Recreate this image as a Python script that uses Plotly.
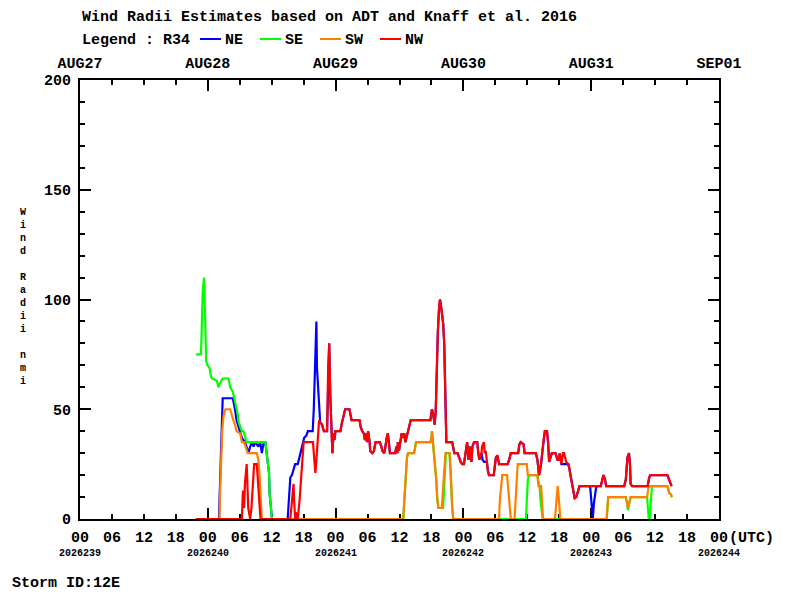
import plotly.graph_objects as go

# hours since 2026-08-27 00 UTC and radii (nmi)
NE_h = [21.75, 26.1, 26.2, 26.4, 26.55, 26.8, 28.7, 28.9, 29.1, 29.4, 29.75, 30.1, 30.4, 31.0, 31.3, 31.65,
        31.95, 32.3, 32.6, 32.9, 33.5, 33.85, 34.15, 34.5, 34.8, 35.0, 35.2, 35.5, 35.6, 35.9, 36.05,
        39.0, 39.25, 39.5, 39.8, 40.1, 40.4, 40.9, 41.25, 41.5, 41.8, 42.1, 42.5, 42.8, 43.7, 43.9, 44.07,
        44.26, 44.39, 44.5, 44.7, 44.9, 45.0, 45.1, 45.45, 45.8, 46.4, 46.6, 46.8, 47.0, 47.2, 47.4, 47.6,
        47.8, 47.96, 48.9, 49.2, 49.5, 49.8, 50.6, 50.8, 51.0, 52.5, 52.7, 53.0, 53.3, 53.5, 53.7, 53.9,
        54.1, 54.4, 54.5, 54.9, 55.2, 55.5, 56.3, 56.6, 56.8, 57.1, 57.3, 57.6, 57.8, 58.0, 58.2, 59.2,
        59.4, 59.6, 59.7, 59.9, 60.2, 60.4, 60.7, 60.9, 61.1, 61.3, 61.6, 61.9, 62.1, 65.8, 65.9, 66.1,
        66.3, 66.5, 66.6, 66.8, 66.9, 67.2, 67.4, 67.6, 67.8, 68.0, 68.2, 68.4, 68.6, 68.8, 69.9, 70.1,
        70.3, 70.9, 71.2, 71.5, 71.8, 72.1, 72.4, 72.7, 72.96, 73.2, 73.5, 73.7, 74.0, 74.6, 74.8, 75.0,
        75.4, 75.6, 75.9, 76.2, 76.4, 76.6, 76.8, 77.7, 78.1, 78.4, 78.7, 80.3, 80.6, 80.9, 82.3, 82.5,
        82.75, 83.3, 83.5, 85.6, 85.9, 86.2, 86.4, 86.6, 86.8, 87.1, 87.3, 87.7, 87.9, 88.1, 88.4, 88.6,
        89.3, 89.65, 89.95, 90.1, 90.4, 91.3, 91.7, 91.9, 92.2, 92.4, 92.7, 92.9, 93.2, 93.5, 93.8, 95.8,
        96.1, 96.3, 96.5, 96.9, 97.1, 97.8, 98.0, 98.3, 98.6, 98.8, 102.2, 102.5, 102.8, 103.1, 103.3,
        103.4, 103.7, 106.6, 106.9, 107.1, 110.3, 110.6, 110.8, 111.1]
NE_v = [0, 0, 9, 27, 45, 55, 55, 53, 50, 45, 42, 40, 37, 35, 33, 30,
        33, 35, 33, 35, 33, 35, 30, 35, 35, 31, 27, 21, 12, 3, 0,
        0, 12, 19, 20, 22, 25, 25, 29, 31, 34, 37, 38, 40, 40, 50, 65,
        80, 90, 69, 59, 50, 45, 44, 43, 40, 40, 69, 80, 56, 42, 30, 39,
        36, 40, 40, 44, 47, 50, 50, 47, 45, 45, 42, 40, 39, 36, 39, 35,
        40, 35, 31, 30, 31, 35, 35, 33, 31, 30, 32, 37, 39, 35, 30, 30,
        33, 30, 35, 31, 35, 39, 37, 39, 35, 37, 40, 42, 45, 45, 48, 50,
        48, 45, 43, 49, 61, 85, 95, 100, 97, 94, 89, 80, 63, 35, 35, 33,
        30, 30, 28, 26, 25, 25, 30, 35, 27, 33, 26, 33, 35, 35, 30, 27,
        30, 27, 26, 26, 26, 22, 20, 20, 28, 29, 25, 25, 27, 30, 30, 34,
        35, 34, 30, 30, 27, 20, 22, 25, 30, 37, 40, 40, 35, 26, 28, 30,
        30, 27, 27, 30, 25, 25, 25, 23, 18.5, 16, 12.5, 9.5, 10, 13, 15, 15,
        8, 0, 7, 14, 15, 15, 17, 20, 18, 15, 15, 18, 28, 30, 24,
        16, 15, 15, 19, 20, 20, 18, 17, 15]

SE_h = [21.75, 22.7, 22.8, 22.9, 23.05, 23.3, 23.4, 23.6, 23.7, 23.95, 24.3, 24.6, 24.8, 25.7, 26.0,
        26.3, 26.8, 27.9, 28.2, 28.7, 29.0, 29.3, 29.6, 29.8, 30.1, 30.4, 30.7, 31.0, 31.3, 34.8, 35.0,
        35.2, 35.5, 35.6, 35.9, 36.05, 60.7, 60.8, 61.0, 61.2, 61.4, 61.6, 62.7, 62.9, 63.1, 65.8, 66.0,
        66.1, 66.3, 66.5, 66.7, 66.9, 67.1, 67.3, 68.2, 68.35, 68.5, 68.7, 69.4, 69.6, 69.7, 69.9, 70.1,
        83.75, 83.9, 84.1, 84.3, 85.9, 86.1, 86.3, 86.5, 86.9, 98.9, 99.05, 99.2, 102.5, 102.7, 102.9,
        103.2, 103.4, 106.5, 106.6, 106.8, 107.0, 107.2, 107.4, 110.3, 110.65, 111.0, 111.15]
SE_v = [75, 75, 81, 92, 104, 110, 100, 83, 72, 70, 69, 65, 64, 63, 60,
        62, 64, 64, 60, 58, 55, 52, 48, 44, 42, 40, 40, 37, 35, 35, 31,
        27, 21, 12, 3, 0, 0, 4, 12, 21, 28, 30, 30, 32, 35, 35, 37,
        40, 35, 28, 23, 18, 9, 5, 5, 12, 22, 30, 30, 23, 15, 5, 0,
        0, 10, 18, 20, 20, 17, 15, 8, 0, 0, 5, 10, 10, 8, 4,
        8, 10, 10, 5, 0, 0, 8, 15, 15, 12, 11, 10]

SW_h = [21.75, 26.2, 26.3, 26.5, 26.7, 26.95, 27.3, 28.2, 28.5, 28.8, 29.1, 29.4, 30.1, 30.4, 30.8,
        31.15, 31.5, 33.2, 33.5, 33.7, 33.9, 34.15, 60.7, 60.8, 61.0, 61.2, 61.4, 61.6, 62.7, 62.9, 63.1,
        65.8, 66.0, 66.1, 66.3, 66.5, 66.7, 66.9, 67.1, 67.3, 67.95, 68.1, 68.4, 68.65, 69.4, 69.6, 69.7,
        69.9, 70.1, 78.7, 78.85, 79.1, 79.3, 80.2, 80.4, 80.6, 80.9, 81.6, 81.8, 82.0, 82.2, 83.9, 84.1,
        85.9, 86.1, 86.6, 86.8, 86.95, 89.2, 89.4, 89.6, 89.7, 89.9, 90.1, 90.2, 98.9, 99.05, 99.2,
        102.5, 102.7, 102.9, 103.2, 103.4, 106.5, 106.8, 110.3, 110.65, 111.0, 111.15]
SW_v = [0, 0, 12, 30, 40, 47, 50, 50, 47, 45, 43, 40, 39, 35, 35,
        32, 30, 30, 27, 21, 12, 0, 0, 4, 12, 21, 28, 30, 30, 32, 35,
        35, 37, 40, 35, 28, 23, 18, 9, 5, 5, 12, 22, 30, 30, 23, 15,
        5, 0, 0, 9, 15, 20, 20, 15, 9, 0, 0, 9, 17, 25, 25, 20,
        20, 15, 15, 8, 0, 0, 8, 13, 15, 10, 5, 0, 0, 5, 10,
        10, 8, 5, 8, 10, 10, 15, 15, 12, 11, 10]

NW_h = [21.75, 30.4, 30.6, 30.8, 31.0, 31.3, 31.6, 31.95, 32.2, 32.5, 32.7, 33.2, 33.5, 33.7, 33.9,
        39.5, 39.8, 40.1, 40.2, 40.4, 40.55, 40.9, 41.25, 41.5, 41.75, 42.0, 43.75, 44.0, 44.2, 44.4,
        44.6, 44.9, 45.1, 45.45, 45.8, 46.4, 46.6, 46.8, 47.0, 47.2, 47.4, 47.6, 47.8, 47.96, 48.9, 49.2,
        49.5, 49.8, 50.6, 50.8, 51.0, 52.5, 52.7, 53.0, 53.3, 53.5, 53.7, 53.9, 54.1, 54.4, 54.5, 54.9,
        55.2, 55.5, 56.3, 56.6, 56.8, 57.1, 57.3, 57.6, 57.8, 58.0, 58.2, 59.2, 59.4, 59.6, 59.7, 59.9,
        60.2, 60.4, 60.7, 60.9, 61.1, 61.3, 61.6, 61.9, 62.1, 65.8, 65.9, 66.1, 66.3, 66.5, 66.6, 66.8,
        66.9, 67.2, 67.4, 67.6, 67.8, 68.0, 68.2, 68.4, 68.6, 68.8, 69.9, 70.1, 70.3, 70.9, 71.2, 71.5,
        71.8, 72.1, 72.4, 72.7, 72.96, 73.2, 73.5, 73.7, 74.0, 74.6, 74.8, 75.0, 75.4, 75.5, 75.85, 76.0,
        76.2, 76.4, 76.6, 76.8, 77.7, 78.1, 78.4, 78.7, 80.3, 80.6, 80.9, 82.3, 82.5, 82.75, 83.3, 83.5,
        85.6, 85.9, 86.2, 86.4, 86.6, 86.8, 87.1, 87.3, 87.7, 87.9, 88.1, 88.4, 88.6, 89.3, 89.65, 89.95,
        90.1, 90.4, 90.7, 90.9, 91.1, 91.3, 91.7, 91.9, 92.2, 92.4, 92.7, 92.9, 93.2, 93.5, 93.8, 97.8,
        98.0, 98.3, 98.6, 98.8, 102.2, 102.5, 102.8, 103.1, 103.3, 103.4, 103.7, 106.6, 106.9, 107.1,
        110.3, 110.6, 110.8, 111.1]
NW_v = [0, 0, 13, 5, 17, 25, 5, 0, 5, 20, 25, 25, 15, 10, 0,
        0, 9, 16, 9, 0, 3, 0, 9, 18, 27, 35, 35, 27, 21, 27,
        36, 45, 44, 43, 40, 40, 69, 80, 56, 42, 30, 39, 36, 40, 40, 44,
        47, 50, 50, 47, 45, 45, 42, 40, 39, 36, 39, 35, 40, 35, 31, 30,
        31, 35, 35, 33, 31, 30, 32, 37, 39, 35, 30, 30, 33, 30, 35, 31,
        35, 39, 37, 39, 35, 37, 40, 42, 45, 45, 48, 50, 48, 45, 43, 49,
        61, 85, 95, 100, 97, 94, 89, 80, 63, 35, 35, 33, 30, 30, 28, 26,
        25, 25, 30, 35, 27, 33, 26, 33, 35, 35, 30, 27, 30, 33, 35, 30,
        31, 26, 22, 20, 20, 28, 29, 25, 25, 27, 30, 30, 34, 35, 34, 30,
        30, 27, 20, 22, 25, 30, 37, 40, 40, 35, 26, 28, 30, 30, 27, 27,
        30, 25, 30, 30, 28, 26, 25, 23, 18.5, 16, 12.5, 9.5, 10, 13, 15, 15,
        17, 20, 18, 15, 15, 18, 28, 30, 24, 16, 15, 15, 19, 20,
        20, 18, 17, 15]

SERIES_NAMES = ["NE", "SE", "SW", "NW"]
SERIES_COLORS = ["#0000ff", "#00ff00", "#ff8000", "#ff0000"]

HOUR_TICKS = list(range(0, 121, 6))
HOUR_LABELS = ["00", "06", "12", "18"] * 5 + ["00"]
DAY_TICKS = [0, 24, 48, 72, 96, 120]
DAY_LABELS = ["AUG27", "AUG28", "AUG29", "AUG30", "AUG31", "SEP01"]
JULIAN_LABELS = ["2026239", "2026240", "2026241", "2026242", "2026243", "2026244"]
Y_TICKS = [0, 50, 100, 150, 200]

TITLE = "Wind Radii Estimates based on ADT and Knaff et al. 2016"
LEGEND_LABEL = "Legend : R34"
STORM_ID = "Storm ID:12E"
Y_TITLE = "Wind Radii nmi"

FONT = "Liberation Mono"
mainfont = dict(family=FONT, size=15, color="black", weight="bold")
smallfont = dict(family=FONT, size=10, color="black", weight="bold")

fig = go.Figure()
data = [(NE_h, NE_v), (SE_h, SE_v), (SW_h, SW_v), (NW_h, NW_v)]
for (hh, vv), name, col in zip(data, SERIES_NAMES, SERIES_COLORS):
    fig.add_trace(go.Scatter(x=hh, y=vv, mode="lines", name=name,
                             line=dict(color=col, width=2.2), showlegend=False,
                             hoverinfo="skip"))
# helper (empty) traces so the overlay axes are drawn
for ax in ["x2", "x3"]:
    fig.add_trace(go.Scatter(x=[0, 120], y=[None, None], xaxis=ax, yaxis="y",
                             mode="lines", showlegend=False, hoverinfo="skip"))

axis_common = dict(range=[0, 120], showgrid=False, zeroline=False, layer="below traces")

# the page body has an 8px margin: figure is 792x592 so plot area sits at x 80-719, y 80-519
fig.update_layout(
    width=792, height=592,
    margin=dict(l=72, r=81, t=72, b=81),
    paper_bgcolor="white", plot_bgcolor="white",
    xaxis=dict(**axis_common, tickmode="array", tickvals=HOUR_TICKS, ticktext=HOUR_LABELS,
               ticks="inside", ticklen=5, tickwidth=2, tickcolor="black",
               showline=True, linewidth=2, linecolor="black", mirror=False,
               tickfont=mainfont, ticklabelstandoff=3),
    xaxis3=dict(**axis_common, overlaying="x", side="bottom", tickmode="array",
                tickvals=DAY_TICKS, ticks="inside", ticklen=11, tickwidth=2,
                tickcolor="black", showticklabels=False, showline=False),
    xaxis2=dict(**axis_common, overlaying="x", side="top", tickmode="array",
                tickvals=DAY_TICKS, ticktext=DAY_LABELS, ticks="inside", ticklen=11,
                tickwidth=2, tickcolor="black", showline=True, linewidth=2, linecolor="black",
                minor=dict(tickmode="array", tickvals=HOUR_TICKS, ticks="inside", ticklen=5,
                           tickwidth=2, tickcolor="black"),
                tickfont=mainfont, ticklabelstandoff=4),
    yaxis=dict(range=[0, 200], tickmode="array", tickvals=Y_TICKS, showgrid=False,
               zeroline=False, ticks="inside", ticklen=11, tickwidth=2, tickcolor="black",
               showline=True, linewidth=2, linecolor="black", mirror="ticks",
               layer="below traces",
               minor=dict(dtick=10, ticks="inside", ticklen=5, tickwidth=2, tickcolor="black"),
               tickfont=mainfont, ticklabelstandoff=4),
)

PW, PH = 639.0, 439.0
def px_x(p):
    return (p - 80) / PW
def px_y(p):
    return (519 - p) / PH

ann = []
ann.append(dict(text=TITLE, x=px_x(80), y=px_y(17.5), xref="paper", yref="paper",
                xanchor="left", yanchor="middle", showarrow=False, font=mainfont))
ann.append(dict(text=LEGEND_LABEL, x=px_x(80), y=px_y(40), xref="paper", yref="paper",
                xanchor="left", yanchor="middle", showarrow=False, font=mainfont))
leg_x = [200, 260, 320, 380]
shapes = []
for lx, name, col in zip(leg_x, SERIES_NAMES, SERIES_COLORS):
    shapes.append(dict(type="line", xref="paper", yref="paper", x0=px_x(lx), x1=px_x(lx + 21),
                       y0=px_y(39), y1=px_y(39), line=dict(color=col, width=2)))
    ann.append(dict(text=name, x=px_x(lx + 23), y=px_y(40), xref="paper", yref="paper",
                    xanchor="left", yanchor="middle", showarrow=False, font=mainfont))
for d, jl in zip(DAY_TICKS, JULIAN_LABELS):
    ann.append(dict(text=jl, x=d, y=px_y(553), xref="x", yref="paper", xanchor="center",
                    yanchor="middle", showarrow=False, font=smallfont))
ann.append(dict(text="(UTC)", x=120, y=px_y(538), xref="x", yref="paper", xanchor="left",
                xshift=8, yanchor="middle", showarrow=False, font=mainfont))
# vertical stacked y-axis title, one character per line
ann.append(dict(text="<br>".join(ch if ch != " " else " " for ch in Y_TITLE),
                x=px_x(23), y=px_y(297), xref="paper", yref="paper", xanchor="center",
                yanchor="middle", showarrow=False,
                font=dict(family=FONT, size=10, color="black", weight="bold")))
ann.append(dict(text=STORM_ID, x=px_x(10), y=px_y(583), xref="paper", yref="paper",
                xanchor="left", yanchor="middle", showarrow=False, font=mainfont))
fig.update_layout(annotations=ann, shapes=shapes)

fig.write_html("out.html")
